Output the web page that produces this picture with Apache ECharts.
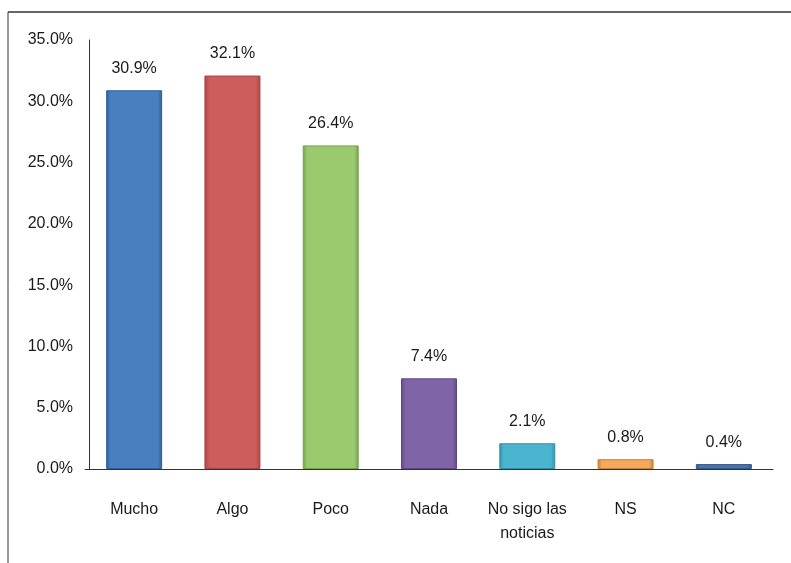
<!DOCTYPE html>
<html>
<head>
<meta charset="utf-8">
<script src="https://cdn.jsdelivr.net/npm/echarts@6/dist/echarts.min.js"></script>
<style>
html,body{margin:0;padding:0;background:#fff;}
#chart{width:791px;height:563px;}
</style>
</head>
<body>
<div id="chart"></div>
<script>
const categories = ['Mucho', 'Algo', 'Poco', 'Nada', 'No sigo las\nnoticias', 'NS', 'NC'];
const values = [30.9, 32.1, 26.4, 7.4, 2.1, 0.8, 0.4];
const barColors = ['#4a7ebf', '#cd5c5c', '#9bc96e', '#8064a8', '#4bb5d0', '#f5a95c', '#4f73a8'];
const edgeColors = ['#2f5f9c', '#a84444', '#77a04e', '#5f4886', '#3390a8', '#c97f36', '#35568a'];
const yTicks = { min: 0, max: 35, interval: 5 };

const chart = echarts.init(document.getElementById('chart'));
const font = 'Liberation Sans, Arial, sans-serif';
const fs = 16;

chart.setOption({
  animation: false,
  backgroundColor: '#fff',
  graphic: [
    { type: 'line', shape: { x1: 8, y1: 12, x2: 791, y2: 12 }, style: { stroke: '#333', lineWidth: 1.5 } },
    { type: 'line', shape: { x1: 8, y1: 12, x2: 8, y2: 563 }, style: { stroke: '#333', lineWidth: 1 } }
  ],
  grid: { left: 85, right: 18, top: 40, bottom: 94 },
  xAxis: {
    type: 'category',
    data: categories,
    axisLine: { lineStyle: { color: '#333', width: 1 } },
    axisTick: { show: false },
    axisLabel: { color: '#1a1a1a', fontSize: fs, fontFamily: font, margin: 29, lineHeight: 24, interval: 0 }
  },
  yAxis: {
    type: 'value',
    min: yTicks.min, max: yTicks.max, interval: yTicks.interval,
    offset: -4,
    axisLine: { show: true, lineStyle: { color: '#333', width: 1 } },
    axisTick: { show: false },
    splitLine: { show: false },
    axisLabel: { color: '#1a1a1a', fontSize: fs, fontFamily: font, margin: 16,
      formatter: v => v.toFixed(1) + '%' }
  },
  series: [{
    type: 'bar',
    barWidth: 56,
    data: values.map((v, i) => ({
      value: v,
      itemStyle: {
        color: new echarts.graphic.LinearGradient(0, 0, 1, 0, [
          { offset: 0, color: edgeColors[i] },
          { offset: 0.08, color: barColors[i] },
          { offset: 0.92, color: barColors[i] },
          { offset: 1, color: edgeColors[i] }
        ]),
        borderColor: edgeColors[i],
        borderWidth: 1
      }
    })),
    label: {
      show: true, position: 'top', distance: 14,
      color: '#1a1a1a', fontSize: fs, fontFamily: font,
      formatter: p => p.value.toFixed(1) + '%'
    }
  }]
});
</script>
</body>
</html>
